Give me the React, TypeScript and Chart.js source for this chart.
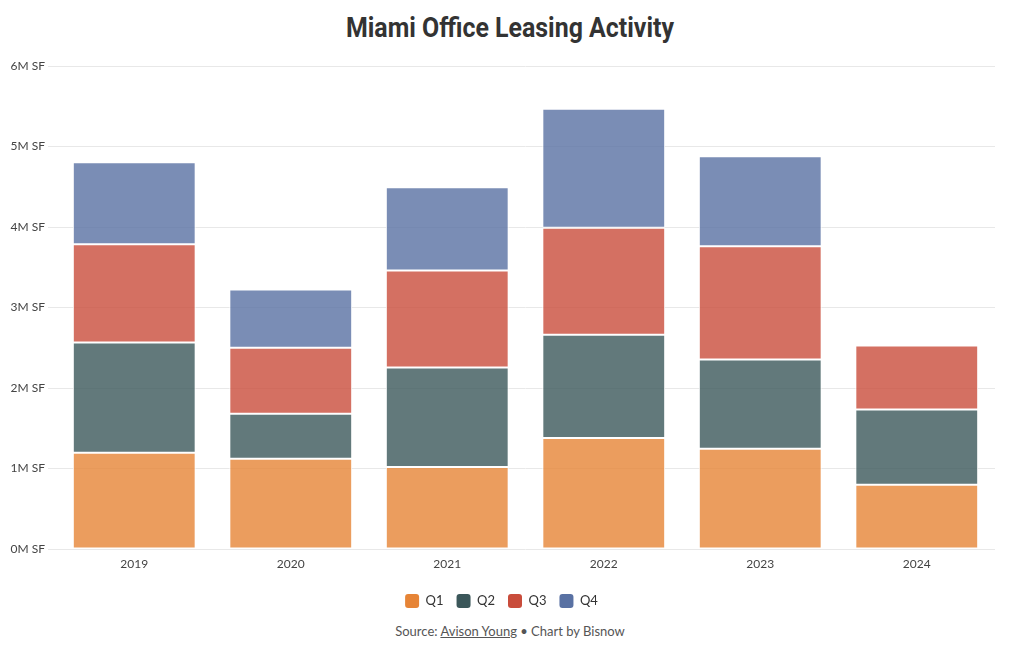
import React, { useEffect, useRef } from "react";
import { Chart, registerables } from "chart.js";

Chart.register(...registerables);

const years = ["2019", "2020", "2021", "2022", "2023", "2024"];
const q1 = [1.195, 1.12, 1.02, 1.38, 1.245, 0.797];
const q2 = [1.37, 0.56, 1.235, 1.28, 1.11, 0.935];
const q3 = [1.22, 0.82, 1.205, 1.33, 1.405, 0.795];
const q4 = [1.02, 0.725, 1.035, 1.48, 1.12, null];
const seriesNames = ["Q1", "Q2", "Q3", "Q4"];
const baseColors = ["#e68436", "#3b575a", "#c94c3b", "#5971a3"];
const barColors = ["rgba(230,132,54,0.8)", "rgba(59,87,90,0.8)", "rgba(201,76,59,0.8)", "rgba(89,113,163,0.8)"];
const yTicks = [0, 1, 2, 3, 4, 5, 6];

const UI_FONT = "Lato, 'Open Sans', sans-serif";

export default function App() {
  const ref = useRef<HTMLCanvasElement | null>(null);

  useEffect(() => {
    if (!ref.current) return;
    const values = [q1, q2, q3, q4];
    const chart = new Chart(ref.current, {
      type: "bar",
      data: {
        labels: years,
        datasets: seriesNames.map((name, i) => ({
          label: name,
          data: values[i],
          backgroundColor: barColors[i],
          borderColor: "#ffffff",
          borderWidth: 1,
          borderSkipped: false,
          barPercentage: 0.785,
          categoryPercentage: 1,
        })),
      },
      options: {
        animation: false,
        responsive: false,
        maintainAspectRatio: false,
        layout: { padding: { top: 58, right: 17, left: 0, bottom: 0 } },
        plugins: {
          title: { display: false },
          tooltip: { enabled: false },
          legend: {
            position: "bottom",
            labels: {
              boxWidth: 14,
              boxHeight: 14,
              useBorderRadius: true,
              borderRadius: 3,
              padding: 13,
              color: "#333",
              font: { family: UI_FONT, size: 13 },
              generateLabels: (c: any) =>
                c.data.datasets.map((ds: any, i: number) => ({
                  text: ds.label,
                  fillStyle: baseColors[i],
                  strokeStyle: baseColors[i],
                  lineWidth: 0,
                  borderRadius: 3,
                  hidden: false,
                  datasetIndex: i,
                  fontColor: "#333",
                })),
            },
          },
        },
        scales: {
          x: {
            stacked: true,
            grid: { display: false },
            border: { display: false },
            ticks: { color: "#444", font: { family: UI_FONT, size: 12 }, padding: 0 },
            afterFit: (s: any) => {
              s.height = 32;
            },
          },
          y: {
            stacked: true,
            min: 0,
            max: 6,
            afterBuildTicks: (s: any) => {
              s.ticks = yTicks.map((v) => ({ value: v }));
            },
            afterFit: (s: any) => {
              s.width = 48;
            },
            grid: { color: "#e8e8e8", tickLength: 8, tickColor: "#e8e8e8" },
            border: { display: false },
            ticks: {
              color: "#444",
              font: { family: UI_FONT, size: 12 },
              padding: 3,
              callback: (v: any) => `${v}M SF`,
            },
          },
        },
      },
    });
    return () => chart.destroy();
  }, []);

  return (
    <div style={{ position: "relative", width: 1004, height: 634, fontFamily: UI_FONT }}>
      <div
        style={{
          position: "absolute",
          top: 2,
          left: 0,
          width: 1004,
          textAlign: "center",
          fontFamily: "Roboto, sans-serif",
          fontWeight: 700,
          fontSize: 28,
          color: "#333",
          transform: "scaleX(0.89)",
          transformOrigin: "center",
          lineHeight: "36px",
        }}
      >
        Miami Office Leasing Activity
      </div>
      <canvas ref={ref} width={1004} height={610} style={{ position: "absolute", top: 0, left: 0 }} />
      <div
        style={{
          position: "absolute",
          top: 615,
          left: 0,
          width: 1004,
          textAlign: "center",
          fontSize: 13,
          color: "#555",
        }}
      >
        Source: <span style={{ textDecoration: "underline" }}>Avison Young</span> • Chart by Bisnow
      </div>
    </div>
  );
}
